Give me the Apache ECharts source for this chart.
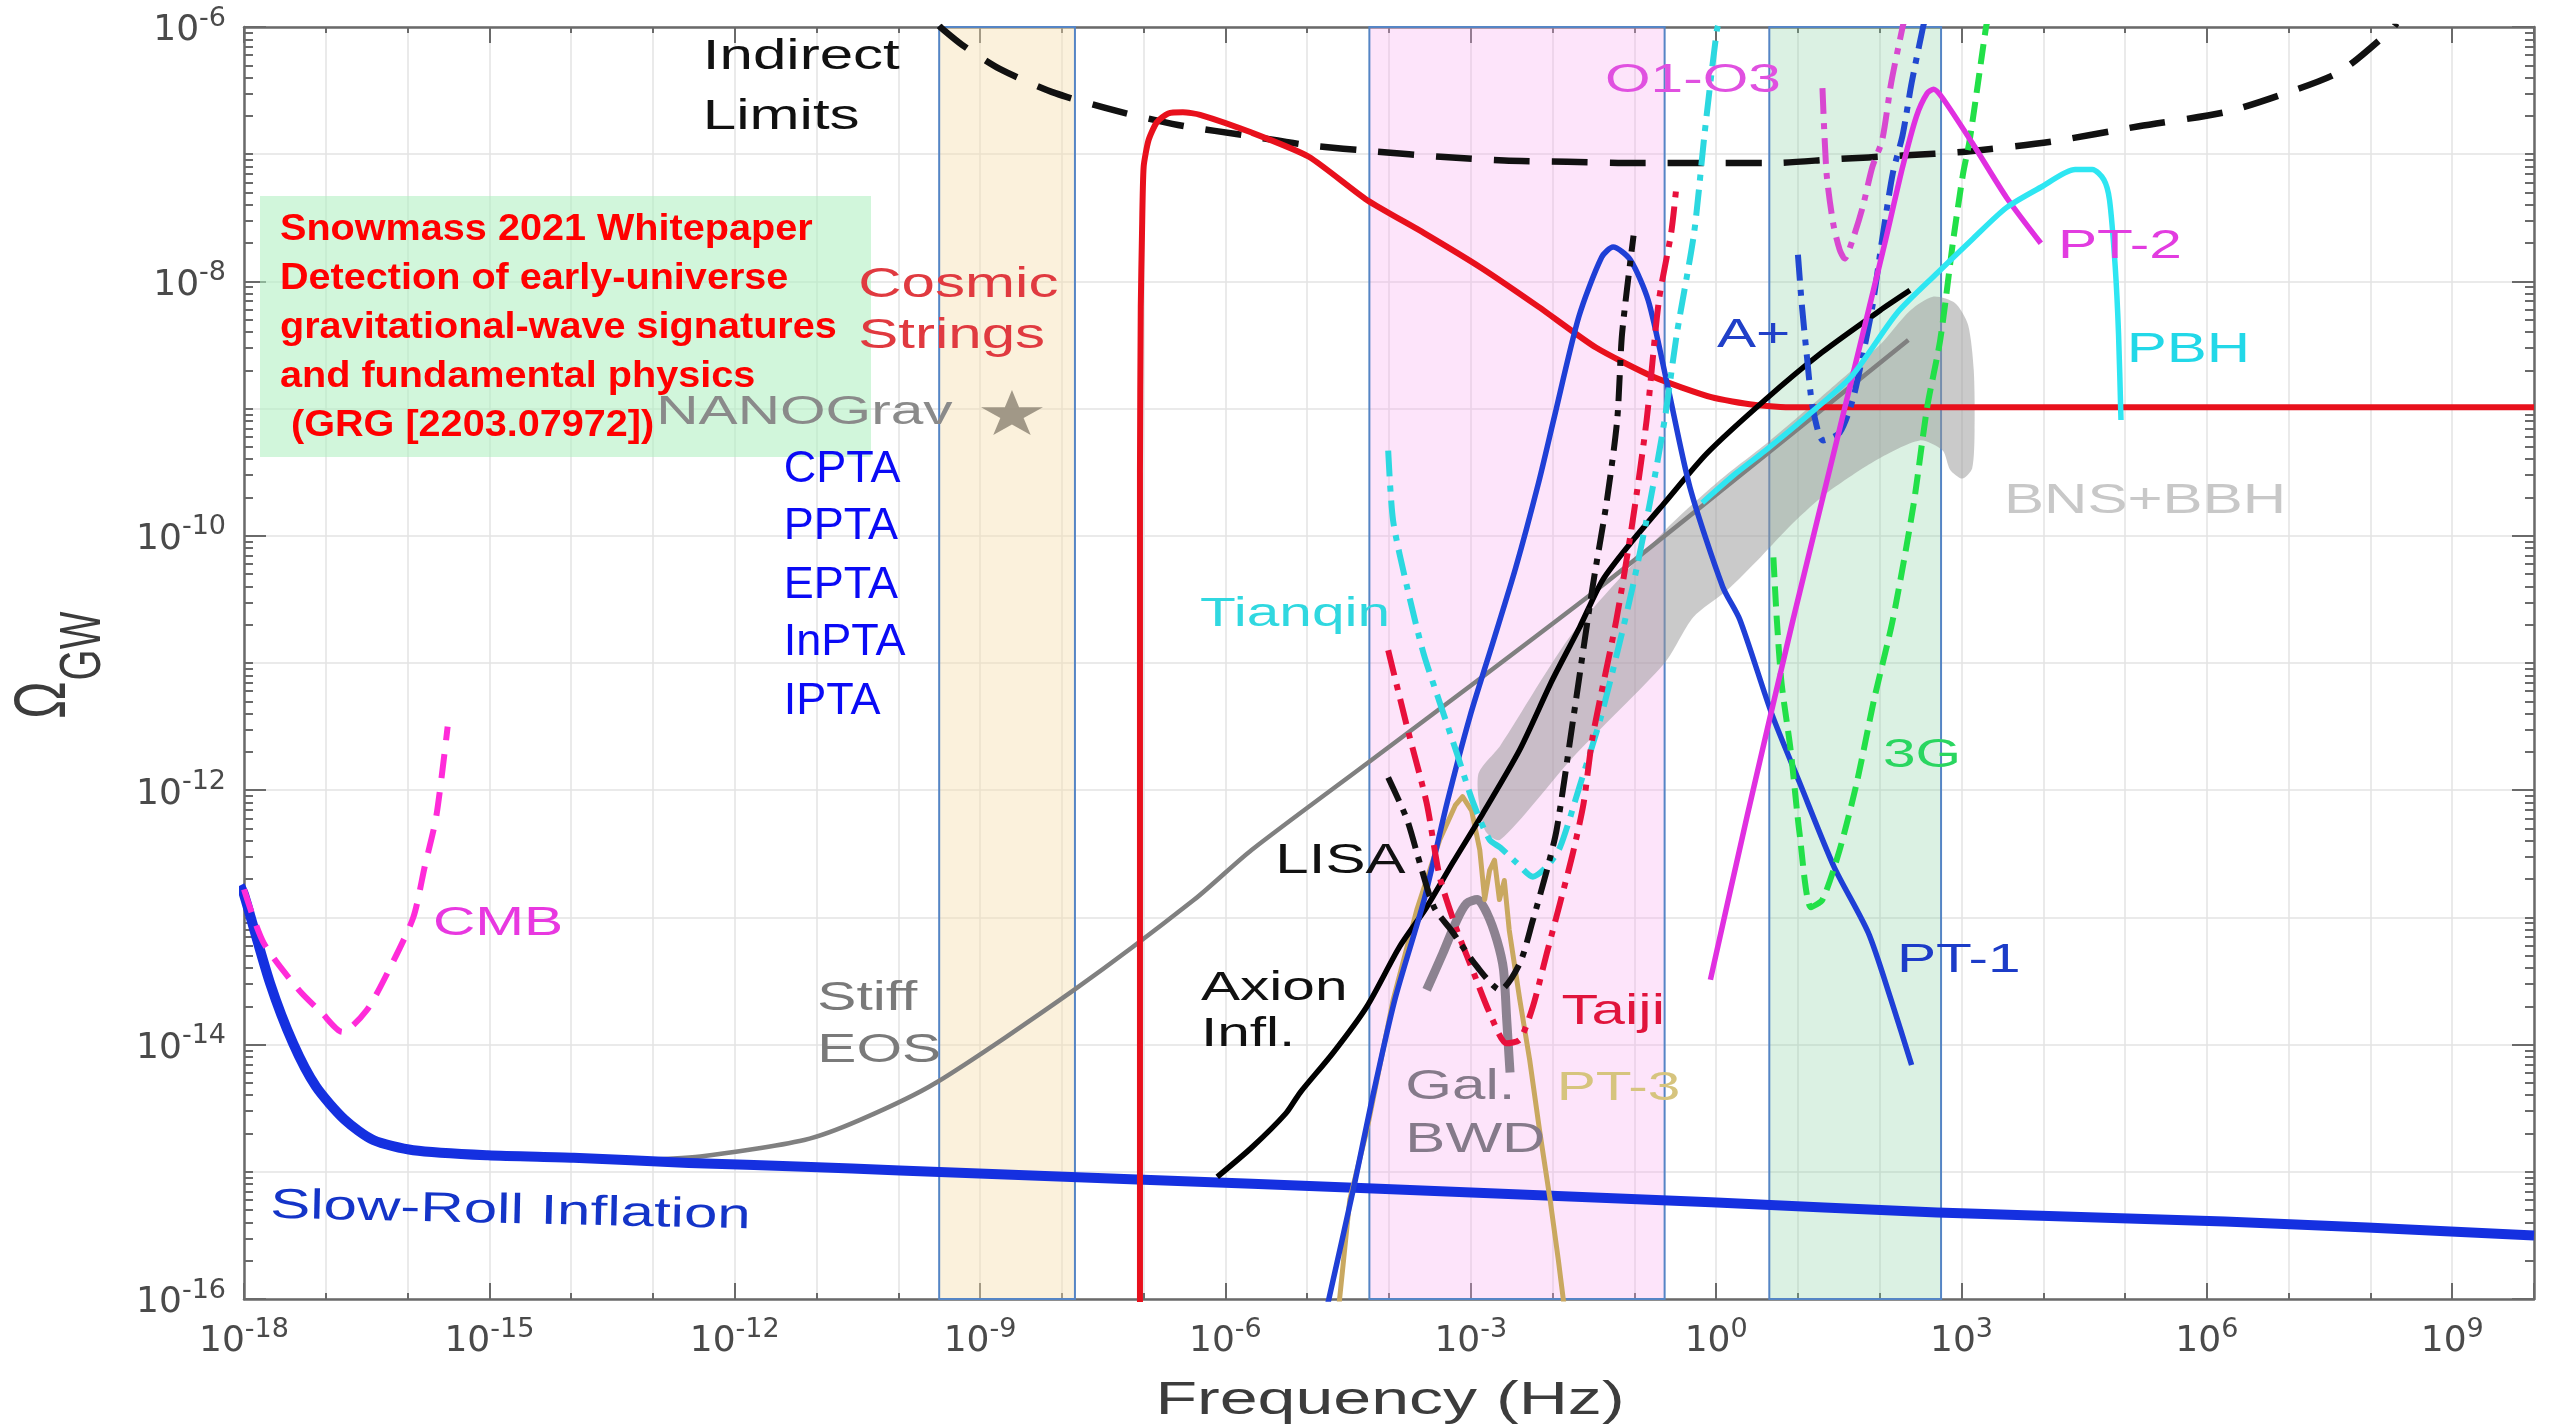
<!DOCTYPE html>
<html><head><meta charset="utf-8">
<script src="https://cdn.jsdelivr.net/npm/echarts@6/dist/echarts.min.js"></script>
<style>html,body{margin:0;padding:0;background:#fff}#c{width:2552px;height:1428px}</style>
</head><body><div id="c"></div>
<script>
// ---- tick labels (log10 exponents) ----
const xLabelExponents = [-18,-15,-12,-9,-6,-3,0,3,6,9];
const yLabelExponents = [-16,-14,-12,-10,-8,-6];

// ---- bands (log10 frequency ranges) ----
const bandPTA = [-9.50, -7.84];
const bandSpace = [-4.24, -0.63];
const bandGround = [0.65, 2.75];

// ---- curves: [log10 f, log10 Omega] ----
const indirect = [[-9.50,-5.99],[-9.47,-6.01],[-9.22,-6.14],[-8.76,-6.33],[-8.08,-6.52],[-7.33,-6.66],[-6.58,-6.77],[-5.68,-6.86],[-4.98,-6.93],[-4.14,-6.98],[-3.37,-7.02],[-2.59,-7.05],[-1.82,-7.06],[-0.98,-7.07],[-0.06,-7.07],[0.67,-7.07],[1.44,-7.04],[2.28,-7.01],[3.05,-6.98],[4.11,-6.90],[5.17,-6.78],[6.22,-6.67],[6.92,-6.53],[7.63,-6.35],[8.26,-6.02],[8.32,-5.97]];
const cosmicStrings = [[-7.045,-16.5],[-7.045,-9.5],[-7.035,-8.2],[-7.02,-7.62],[-7.0,-7.10],[-6.94,-6.89],[-6.84,-6.75],[-6.70,-6.68],[-6.52,-6.67],[-6.31,-6.69],[-5.68,-6.83],[-4.98,-7.02],[-4.27,-7.36],[-3.57,-7.62],[-2.88,-7.89],[-2.17,-8.20],[-1.47,-8.52],[-0.77,-8.75],[-0.06,-8.91],[0.46,-8.97],[0.95,-8.99],[10,-8.99]];
const slowRoll = [[-18.05,-12.75],[-18,-12.82],[-17.68,-13.52],[-17.40,-13.99],[-17.12,-14.33],[-16.77,-14.59],[-16.42,-14.75],[-15.93,-14.83],[-15.02,-14.87],[-13.97,-14.89],[-12.56,-14.93],[-11.15,-14.96],[-9.98,-14.99],[-7.08,-15.06],[-4.27,-15.13],[-0.06,-15.24],[2.70,-15.32],[6.22,-15.39],[10,-15.50]];
const cmb = [[-18,-12.78],[-17.76,-13.20],[-17.33,-13.57],[-17.05,-13.75],[-16.80,-13.90],[-16.50,-13.73],[-16.21,-13.39],[-15.93,-13.00],[-15.79,-12.60],[-15.65,-12.21],[-15.51,-11.50]];
const stiffEOS = [[-13.3,-14.91],[-12.42,-14.88],[-11.15,-14.75],[-10.46,-14.59],[-9.54,-14.30],[-7.85,-13.57],[-6.38,-12.86],[-5.68,-12.47],[-4.27,-11.79],[-2.86,-11.11],[-1.47,-10.43],[-0.18,-9.77],[2.35,-8.46]];
const lisa = [[-4.01,-11.90],[-3.78,-12.23],[-3.62,-12.58],[-3.45,-12.92],[-3.24,-13.10],[-2.92,-13.39],[-2.64,-13.57],[-2.40,-13.36],[-2.24,-13.02],[-2.07,-12.63],[-1.95,-12.31],[-1.75,-11.45],[-1.51,-10.40],[-1.34,-9.74],[-1.21,-9.09],[-1.15,-8.41],[-1.01,-7.64]];
const taiji = [[-4.01,-10.90],[-3.78,-11.50],[-3.54,-12.10],[-3.38,-12.68],[-3.17,-13.10],[-2.98,-13.41],[-2.77,-13.75],[-2.56,-13.99],[-2.40,-13.96],[-2.24,-13.70],[-2.07,-13.28],[-1.91,-12.89],[-1.75,-12.49],[-1.62,-12.10],[-1.51,-11.58],[-1.22,-10.66],[-1.02,-9.88],[-0.85,-9.09],[-0.70,-8.15],[-0.55,-7.62],[-0.49,-7.28]];
const tianqin = [[-4.01,-9.33],[-3.95,-9.88],[-3.78,-10.40],[-3.58,-10.92],[-3.38,-11.31],[-3.17,-11.71],[-2.97,-12.10],[-2.77,-12.39],[-2.64,-12.45],[-2.44,-12.57],[-2.24,-12.68],[-2.07,-12.60],[-1.91,-12.45],[-1.67,-11.97],[-1.42,-11.45],[-1.21,-10.92],[-1.02,-10.40],[-0.81,-9.74],[-0.63,-9.09],[-0.48,-8.41],[-0.27,-7.62],[-0.14,-6.83],[0.01,-6.02],[0.05,-5.94]];
const pt1 = [[-4.77,-16.1],[-4.42,-15.09],[-4.21,-14.44],[-3.93,-13.65],[-3.57,-12.86],[-3.29,-12.10],[-3.01,-11.42],[-2.73,-10.84],[-2.45,-10.25],[-2.17,-9.58],[-1.98,-9.07],[-1.68,-8.28],[-1.40,-7.81],[-1.26,-7.73],[-1.05,-7.83],[-0.83,-8.15],[-0.60,-8.80],[-0.32,-9.62],[0.08,-10.40],[0.29,-10.66],[0.68,-11.40],[1.02,-11.94],[1.44,-12.60],[1.86,-13.12],[2.14,-13.65],[2.39,-14.16]];
const pt3 = [[-4.62,-16.1],[-4.48,-15.22],[-4.27,-14.67],[-3.95,-13.65],[-3.66,-12.94],[-3.38,-12.39],[-3.19,-12.12],[-3.10,-12.05],[-2.99,-12.16],[-2.89,-12.47],[-2.83,-12.86],[-2.77,-12.63],[-2.71,-12.55],[-2.65,-12.86],[-2.59,-12.71],[-2.53,-13.10],[-2.40,-13.65],[-2.28,-14.12],[-2.16,-14.67],[-2.03,-15.22],[-1.93,-15.69],[-1.85,-16.1]];
const galBWD = [[-3.54,-13.57],[-3.34,-13.28],[-3.17,-13.02],[-3.05,-12.89],[-2.92,-12.86],[-2.80,-12.97],[-2.68,-13.18],[-2.60,-13.41],[-2.56,-13.81],[-2.52,-14.22]];
const axion = [[-6.10,-15.04],[-5.68,-14.81],[-5.26,-14.54],[-5.09,-14.38],[-4.69,-14.07],[-4.27,-13.70],[-3.87,-13.23],[-3.54,-12.92],[-3.22,-12.57],[-2.85,-12.18],[-2.40,-11.68],[-2.00,-11.13],[-1.67,-10.72],[-1.39,-10.35],[-1.05,-10.06],[-0.63,-9.74],[-0.11,-9.35],[0.60,-8.93],[1.29,-8.56],[2.00,-8.23],[2.37,-8.07]];
const o1o3 = [[1.30,-6.48],[1.35,-7.15],[1.43,-7.54],[1.51,-7.75],[1.57,-7.82],[1.67,-7.67],[1.79,-7.42],[1.91,-7.10],[2.03,-6.89],[2.14,-6.44],[2.28,-6.0],[2.30,-5.95]];
const aPlus = [[1.00,-7.79],[1.05,-8.20],[1.11,-8.59],[1.18,-8.99],[1.31,-9.25],[1.51,-9.19],[1.67,-8.93],[1.79,-8.59],[1.91,-8.20],[2.03,-7.67],[2.16,-7.15],[2.28,-6.85],[2.39,-6.44],[2.53,-6.0],[2.55,-5.95]];
const threeG = [[0.70,-10.17],[0.74,-10.64],[0.80,-11.16],[0.91,-11.68],[1.02,-12.34],[1.16,-12.92],[1.30,-12.86],[1.51,-12.47],[1.72,-11.94],[1.93,-11.29],[2.16,-10.66],[2.41,-9.77],[2.58,-8.99],[2.74,-8.46],[2.90,-7.67],[3.02,-7.15],[3.10,-6.89],[3.30,-6.0],[3.32,-5.95]];
const pt2 = [[-0.07,-13.49],[0.38,-12.20],[0.94,-10.66],[1.51,-9.16],[1.79,-8.42],[2.07,-7.68],[2.28,-7.10],[2.45,-6.70],[2.58,-6.52],[2.66,-6.49],[2.77,-6.56],[3.13,-6.91],[3.55,-7.34],[3.97,-7.70]];
const pbh = [[-0.17,-9.74],[0.24,-9.51],[0.60,-9.33],[1.09,-9.07],[1.65,-8.75],[2.21,-8.25],[2.71,-7.93],[3.13,-7.67],[3.55,-7.42],[3.97,-7.26],[4.39,-7.12],[4.60,-7.12],[4.74,-7.20],[4.81,-7.36],[4.88,-7.89],[4.92,-8.41],[4.95,-9.09]];
const bnsBand = [[-2.91,-11.88],[-2.64,-11.65],[-1.75,-10.76],[-0.63,-9.96],[0.05,-9.56],[0.66,-9.25],[1.39,-8.85],[2.00,-8.50],[2.37,-8.23],[2.65,-8.12],[2.92,-8.17],[3.08,-8.34],[3.15,-8.70],[3.16,-9.17],[3.13,-9.47],[3.01,-9.55],[2.86,-9.48],[2.77,-9.33],[2.49,-9.25],[1.97,-9.40],[1.36,-9.66],[0.94,-9.90],[0.54,-10.17],[0.13,-10.43],[-0.28,-10.64],[-0.63,-11.00],[-1.75,-11.74],[-2.64,-12.39],[-2.83,-12.31]];
const nanograv = [[-8.61,-9.03]];

// ---- text annotations at [log10 f, log10 Omega] ----
const annotations = [
  {t:'Indirect', at:[-12.39,-6.236], c:'#111111', s:42},
  {t:'Limits', at:[-12.39,-6.708], c:'#111111', s:42},
  {t:'NANOGrav', at:[-12.96,-9.03], c:'#8a8a8a', s:41},
  {t:'Cosmic', at:[-10.49,-8.03], c:'#e03a40', s:42},
  {t:'Strings', at:[-10.49,-8.43], c:'#e03a40', s:42},
  {t:'Tianqin', at:[-6.31,-10.62], c:'#30d8e0', s:41},
  {t:'LISA', at:[-5.39,-12.56], c:'#111111', s:42},
  {t:'Axion', at:[-6.30,-13.56], c:'#111111', s:41},
  {t:'Infl.', at:[-6.30,-13.92], c:'#111111', s:41},
  {t:'Stiff', at:[-10.99,-13.64], c:'#7a7a7a', s:41},
  {t:'EOS', at:[-10.99,-14.05], c:'#7a7a7a', s:41},
  {t:'Gal.', at:[-3.80,-14.34], c:'#857a8a', s:42},
  {t:'BWD', at:[-3.80,-14.75], c:'#857a8a', s:42},
  {t:'PT-3', at:[-1.95,-14.35], c:'#d6c47e', s:41},
  {t:'Taiji', at:[-1.89,-13.75], c:'#e0143c', s:42},
  {t:'PT-1', at:[2.21,-13.34], c:'#1c3cc8', s:41},
  {t:'3G', at:[2.04,-11.73], c:'#2ad660', s:41},
  {t:'BNS+BBH', at:[3.52,-9.73], c:'#c8c8c8', s:42},
  {t:'PBH', at:[5.02,-8.54], c:'#22d8e8', s:42},
  {t:'PT-2', at:[4.18,-7.73], c:'#e23ce0', s:41},
  {t:'A+', at:[0.01,-8.43], c:'#2040c8', s:41},
  {t:'O1-O3', at:[-1.36,-6.42], c:'#e050e0', s:41},
  {t:'CMB', at:[-15.69,-13.05], c:'#e838e0', s:41},
  {t:'Slow-Roll Inflation', at:[-17.68,-15.27], c:'#1434c8', s:42, r:-0.022}
];
const ptaNames = ['CPTA','PPTA','EPTA','InPTA','IPTA'];
const ptaLabelPos = [[-11.40,-9.48],[-11.40,-9.93],[-11.40,-10.39],[-11.40,-10.84],[-11.40,-11.30]];
const titleLines = ['Snowmass 2021 Whitepaper','Detection of early-universe','gravitational-wave signatures','and fundamental physics',' (GRG [2203.07972])'];

// ---- chart ----
const P = v => Math.pow(10, v);
const toData = arr => arr.map(p => [P(p[0]), P(p[1])]);
const AX = '#6a6a6a';
const FONT = 'Liberation Sans, Arial, sans-serif';
const rich = {
  b:{fontSize:36, fontFamily:'DejaVu Sans', color:'#4a4a4a', verticalAlign:'bottom'},
  s:{fontSize:27, fontFamily:'DejaVu Sans', color:'#4a4a4a', verticalAlign:'top', padding:[0,0,17,0]}
};
function fmt(list){ return v => { const e = Math.round(Math.log10(v)); return list.indexOf(e) >= 0 ? '{b|10}{s|' + e + '}' : ''; }; }
function ax(kind, pos, interval, extra){
  const base = {type:'log', logBase:10, position:pos, interval:interval,
    min: kind==='x' ? 1e-18 : 1e-16, max: kind==='x' ? 1e10 : 1e-6,
    axisLine:{show:false, onZero:false}, axisTick:{show:false}, axisLabel:{show:false}, splitLine:{show:false}, minorTick:{show:false}};
  return Object.assign(base, extra);
}
const lineOn = {show:true, onZero:false, lineStyle:{color:AX, width:2.5}};
const tick = len => ({show:true, inside:true, length:len, lineStyle:{color:AX, width:2}});

const minorY = [];
for (let n = -16; n < -6; n++) for (let m = 2; m <= 9; m++) minorY.push(m * Math.pow(10, n));

function curve(name, pts, color, width, type, z, smooth){
  return {type:'line', name, data: toData(pts), symbol:'none', smooth: smooth === undefined ? 0.25 : smooth,
    lineStyle:{color, width, type: type || 'solid', cap:'butt', join:'round'}, z: z || 4, silent:true, clip:true};
}
const DD = [26,9,6,9];

const option = {
  animation:false,
  backgroundColor:'#ffffff',
  grid:{left:244, right:18, top:27, bottom:129},
  xAxis:[
    ax('x','bottom',3,{axisLine:lineOn, axisTick:tick(16), axisLabel:{show:true, formatter:fmt(xLabelExponents), rich, margin:17}}),
    ax('x','bottom',1,{axisTick:tick(6), splitLine:{show:true, lineStyle:{color:'#e3e3e3', width:1.5}}}),
    ax('x','top',3,{axisLine:lineOn, axisTick:tick(16)}),
    ax('x','top',1,{axisTick:tick(6)})
  ],
  yAxis:[
    ax('y','left',2,{axisLine:lineOn, axisTick:tick(22), axisLabel:{show:true, formatter:fmt(yLabelExponents), rich, margin:18}}),
    ax('y','left',1,{axisTick:tick(9), splitLine:{show:true, lineStyle:{color:'#e3e3e3', width:1.5}}}),
    ax('y','right',2,{axisLine:lineOn, axisTick:tick(22)}),
    ax('y','right',1,{axisTick:tick(9)}),
    ax('y','left',1,{axisTick:Object.assign(tick(9), {customValues:minorY})}),
    ax('y','right',1,{axisTick:Object.assign(tick(9), {customValues:minorY})})
  ],
  series:[
    {type:'line', name:'bands', data:[], z:1, silent:true,
      markArea:{silent:true, label:{show:false},
        data:[
          [{xAxis:P(bandPTA[0]), itemStyle:{color:'rgba(246,222,172,0.42)', borderColor:'#5585c5', borderWidth:2}}, {xAxis:P(bandPTA[1])}],
          [{xAxis:P(bandSpace[0]), itemStyle:{color:'rgba(250,165,240,0.30)', borderColor:'#5585c5', borderWidth:2}}, {xAxis:P(bandSpace[1])}],
          [{xAxis:P(bandGround[0]), itemStyle:{color:'rgba(125,205,155,0.28)', borderColor:'#5585c5', borderWidth:2}}, {xAxis:P(bandGround[1])}]
        ]}},
    {type:'line', name:'minorgrid', data:[], z:1, silent:true,
      markLine:{silent:true, symbol:['none','none'], label:{show:false}, lineStyle:{color:'#e8e8e8', type:[3,3], width:1},
        data: minorY.map(v => ({yAxis:v}))}},
    {type:'custom', name:'BNS+BBH', z:2, silent:true, clip:true,
      data: toData(bnsBand),
      renderItem:(params, api) => {
        if (params.dataIndex !== 0) return null;
        const pts = bnsBand.map(p => api.coord([P(p[0]), P(p[1])]));
        return {type:'polygon', shape:{points:pts, smooth:0.25}, style:{fill:'rgba(150,150,150,0.5)'}};
      }},
    curve('Stiff EOS', stiffEOS, '#808080', 4.5, 'solid', 3),
    curve('Slow-Roll Inflation', slowRoll, '#1530e0', 10, 'solid', 3),
    curve('CMB', cmb, '#ff2bd9', 6, [24,14], 4),
    curve('Indirect Limits', indirect, '#111111', 6.5, [36,22], 4),
    curve('Cosmic Strings', cosmicStrings, '#e8101c', 6, 'solid', 4, 0.2),
    curve('Gal. BWD', galBWD, '#8c8290', 9, 'solid', 4),
    curve('PT-3', pt3, '#c9a860', 5, 'solid', 4, false),
    curve('Axion Infl.', axion, '#000000', 5.5, 'solid', 5),
    curve('PT-1', pt1, '#1f3fd6', 5.5, 'solid', 5),
    curve('Tianqin', tianqin, '#2cd8e0', 6, DD, 5),
    curve('Taiji', taiji, '#e8103c', 6, DD, 5),
    curve('LISA', lisa, '#111111', 6, DD, 5),
    curve('3G', threeG, '#22e048', 6, [20,9], 5),
    curve('O1-O3', o1o3, '#d848d0', 6, DD, 5),
    curve('A+', aPlus, '#2048d0', 6, DD, 5),
    curve('PT-2', pt2, '#e030e0', 5.5, 'solid', 6),
    curve('PBH', pbh, '#2ee6f2', 5.5, 'solid', 6),
    {type:'scatter', name:'NANOGrav', data: toData(nanograv), z:6, silent:true,
      symbol:'path://M50,0 L61,35 L98,35 L68,57 L79,91 L50,70 L21,91 L32,57 L2,35 L39,35 Z',
      symbolSize:[62,45], itemStyle:{color:'#8b8272'}}
  ]
};

const chart = echarts.init(document.getElementById('c'), null, {renderer:'canvas', width:2552, height:1428});
chart.setOption(option);

const conv = p => chart.convertToPixel({xAxisIndex:0, yAxisIndex:0}, [P(p[0]), P(p[1])]);
const g = [];
// green title box
g.push({type:'rect', z:50, shape:{x:260, y:196, width:611, height:261}, style:{fill:'rgba(172,238,190,0.55)'}});
titleLines.forEach((t, i) => {
  g.push({type:'text', z:60, x:280, y:230 + i*49, scaleX:1.1,
    style:{text:t, fontSize:36, fontWeight:'bold', fontFamily:FONT, fill:'#ff0000', textAlign:'left', align:'left', textVerticalAlign:'middle', verticalAlign:'middle'}});
});
annotations.forEach(a => {
  const p = conv(a.at);
  g.push({type:'text', z:70, x:p[0], y:p[1], scaleX:1.43, rotation:a.r || 0,
    style:{text:a.t, fontSize:a.s, fontFamily:FONT, fill:a.c, textAlign:'left', align:'left', textVerticalAlign:'middle', verticalAlign:'middle'}});
});
ptaNames.forEach((t, i) => {
  const p = conv(ptaLabelPos[i]);
  g.push({type:'text', z:70, x:p[0], y:p[1],
    style:{text:t, fontSize:45, fontFamily:FONT, fill:'#0a0af5', textAlign:'left', align:'left', textVerticalAlign:'middle', verticalAlign:'middle'}});
});
// axis titles
g.push({type:'text', z:70, x:1390, y:1401, scaleX:1.48,
  style:{text:'Frequency (Hz)', fontSize:46, fontFamily:FONT, fill:'#3c3c3c', textAlign:'center', align:'center', textVerticalAlign:'middle', verticalAlign:'middle'}});
g.push({type:'text', z:70, x:45, y:700, rotation:Math.PI/2, scaleY:1.43,
  style:{text:'Ω', fontSize:50, fontFamily:FONT, fill:'#3c3c3c', textAlign:'center', align:'center', textVerticalAlign:'middle', verticalAlign:'middle'}});
g.push({type:'text', z:70, x:84, y:646, rotation:Math.PI/2, scaleY:1.43,
  style:{text:'GW', fontSize:40, fontFamily:FONT, fill:'#3c3c3c', textAlign:'center', align:'center', textVerticalAlign:'middle', verticalAlign:'middle'}});
chart.setOption({graphic:{elements:g}});
</script>
</body></html>
